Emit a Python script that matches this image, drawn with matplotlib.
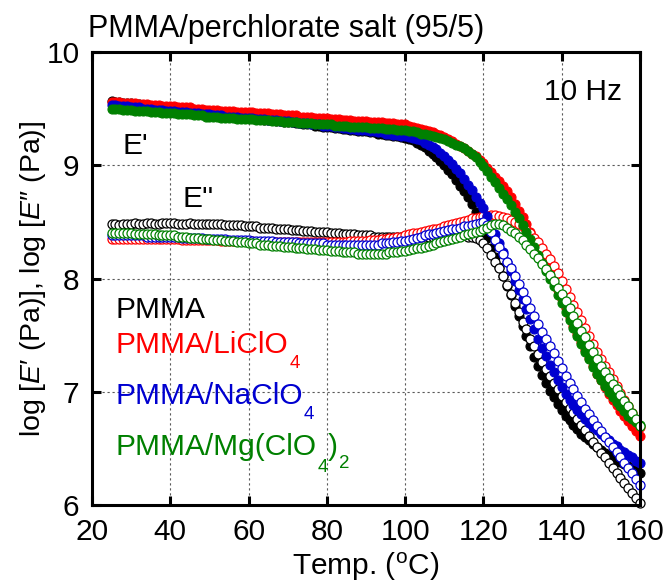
import numpy as np
import matplotlib
matplotlib.use("Agg")
import matplotlib.pyplot as plt

plt.rcParams['font.family'] = ['Liberation Sans', 'DejaVu Sans']
plt.rcParams['mathtext.fontset'] = 'custom'
plt.rcParams['mathtext.rm'] = 'Liberation Sans'
plt.rcParams['mathtext.it'] = 'Liberation Sans:italic'

# measurement temperatures (deg C)
temp = np.arange(25, 161)

# log E' (storage modulus), Pa
pmma_e1 = [
    9.57, 9.56, 9.56, 9.55, 9.55, 9.55, 9.54, 9.54, 9.53, 9.53,
    9.52, 9.52, 9.51, 9.51, 9.50, 9.50, 9.50, 9.49, 9.49, 9.48,
    9.48, 9.48, 9.47, 9.47, 9.46, 9.46, 9.46, 9.45, 9.45, 9.44,
    9.44, 9.44, 9.43, 9.43, 9.42, 9.42, 9.42, 9.41, 9.41, 9.40,
    9.40, 9.40, 9.39, 9.39, 9.38, 9.38, 9.38, 9.37, 9.37, 9.36,
    9.36, 9.36, 9.35, 9.35, 9.34, 9.34, 9.34, 9.33, 9.33, 9.32,
    9.32, 9.31, 9.31, 9.30, 9.30, 9.30, 9.29, 9.29, 9.28, 9.28,
    9.27, 9.27, 9.26, 9.26, 9.25, 9.24, 9.23, 9.22, 9.20, 9.18,
    9.16, 9.13, 9.10, 9.07, 9.04, 9.00, 8.96, 8.92, 8.87, 8.82,
    8.77, 8.72, 8.66, 8.59, 8.52, 8.44, 8.36, 8.27, 8.19, 8.10,
    8.02, 7.93, 7.85, 7.76, 7.67, 7.58, 7.49, 7.40, 7.31, 7.23,
    7.15, 7.08, 7.01, 6.95, 6.89, 6.84, 6.79, 6.75, 6.71, 6.67,
    6.63, 6.60, 6.57, 6.54, 6.51, 6.49, 6.46, 6.44, 6.42, 6.40,
    6.38, 6.36, 6.34, 6.32, 6.30, 6.28,
]
li_e1 = [
    9.56, 9.56, 9.56, 9.55, 9.55, 9.55, 9.55, 9.54, 9.54, 9.54,
    9.53, 9.53, 9.53, 9.52, 9.52, 9.52, 9.52, 9.51, 9.51, 9.51,
    9.51, 9.50, 9.50, 9.50, 9.49, 9.49, 9.49, 9.49, 9.48, 9.48,
    9.48, 9.48, 9.47, 9.47, 9.47, 9.47, 9.47, 9.46, 9.46, 9.46,
    9.46, 9.45, 9.45, 9.45, 9.44, 9.44, 9.44, 9.44, 9.43, 9.43,
    9.43, 9.43, 9.42, 9.42, 9.42, 9.42, 9.41, 9.41, 9.41, 9.40,
    9.40, 9.40, 9.39, 9.39, 9.39, 9.39, 9.38, 9.38, 9.38, 9.38,
    9.37, 9.37, 9.37, 9.36, 9.36, 9.36, 9.35, 9.34, 9.33, 9.32,
    9.31, 9.30, 9.29, 9.28, 9.27, 9.25, 9.23, 9.21, 9.19, 9.17,
    9.15, 9.13, 9.10, 9.08, 9.05, 9.02, 8.98, 8.94, 8.90, 8.86,
    8.82, 8.77, 8.72, 8.66, 8.60, 8.54, 8.48, 8.41, 8.34, 8.27,
    8.20, 8.13, 8.06, 7.98, 7.90, 7.82, 7.74, 7.66, 7.58, 7.51,
    7.44, 7.37, 7.30, 7.23, 7.16, 7.10, 7.04, 6.98, 6.93, 6.88,
    6.83, 6.79, 6.74, 6.70, 6.65, 6.61,
]
na_e1 = [
    9.53, 9.53, 9.52, 9.52, 9.52, 9.51, 9.51, 9.51, 9.50, 9.50,
    9.50, 9.49, 9.49, 9.49, 9.48, 9.48, 9.48, 9.47, 9.47, 9.47,
    9.46, 9.46, 9.46, 9.45, 9.45, 9.45, 9.44, 9.44, 9.44, 9.43,
    9.43, 9.43, 9.43, 9.42, 9.42, 9.42, 9.42, 9.41, 9.41, 9.41,
    9.40, 9.40, 9.40, 9.39, 9.39, 9.39, 9.38, 9.38, 9.37, 9.37,
    9.37, 9.36, 9.36, 9.36, 9.35, 9.35, 9.35, 9.34, 9.34, 9.33,
    9.33, 9.32, 9.32, 9.31, 9.31, 9.31, 9.30, 9.30, 9.29, 9.29,
    9.28, 9.28, 9.27, 9.27, 9.26, 9.26, 9.25, 9.24, 9.23, 9.22,
    9.20, 9.18, 9.16, 9.14, 9.11, 9.08, 9.05, 9.01, 8.97, 8.93,
    8.88, 8.83, 8.78, 8.72, 8.67, 8.62, 8.55, 8.47, 8.39, 8.31,
    8.23, 8.15, 8.07, 7.98, 7.90, 7.82, 7.73, 7.64, 7.55, 7.47,
    7.39, 7.32, 7.24, 7.17, 7.10, 7.04, 6.98, 6.93, 6.88, 6.84,
    6.80, 6.76, 6.72, 6.69, 6.66, 6.63, 6.60, 6.57, 6.54, 6.52,
    6.49, 6.47, 6.44, 6.42, 6.39, 6.37,
]
mg_e1 = [
    9.50, 9.50, 9.50, 9.49, 9.49, 9.49, 9.48, 9.48, 9.48, 9.48,
    9.47, 9.47, 9.47, 9.46, 9.46, 9.46, 9.46, 9.45, 9.45, 9.45,
    9.45, 9.44, 9.44, 9.44, 9.43, 9.43, 9.43, 9.43, 9.42, 9.42,
    9.42, 9.42, 9.41, 9.41, 9.41, 9.41, 9.41, 9.40, 9.40, 9.40,
    9.40, 9.39, 9.39, 9.39, 9.38, 9.38, 9.38, 9.38, 9.37, 9.37,
    9.37, 9.37, 9.36, 9.36, 9.36, 9.36, 9.36, 9.35, 9.35, 9.35,
    9.35, 9.34, 9.34, 9.34, 9.34, 9.34, 9.33, 9.33, 9.33, 9.33,
    9.32, 9.32, 9.32, 9.31, 9.31, 9.31, 9.30, 9.30, 9.29, 9.28,
    9.28, 9.27, 9.26, 9.25, 9.24, 9.23, 9.21, 9.20, 9.18, 9.17,
    9.15, 9.13, 9.10, 9.07, 9.03, 8.99, 8.95, 8.90, 8.85, 8.80,
    8.75, 8.70, 8.65, 8.59, 8.53, 8.47, 8.41, 8.35, 8.28, 8.21,
    8.14, 8.07, 8.00, 7.93, 7.85, 7.78, 7.70, 7.63, 7.56, 7.49,
    7.42, 7.35, 7.29, 7.22, 7.16, 7.10, 7.05, 7.00, 6.95, 6.91,
    6.87, 6.83, 6.79, 6.76, 6.73, 6.71,
]

# log E'' (loss modulus), Pa
pmma_e2 = [
    8.48, 8.48, 8.47, 8.48, 8.48, 8.48, 8.49, 8.48, 8.48, 8.49,
    8.49, 8.48, 8.48, 8.49, 8.49, 8.49, 8.49, 8.48, 8.48, 8.48,
    8.49, 8.48, 8.48, 8.48, 8.48, 8.48, 8.48, 8.48, 8.48, 8.47,
    8.47, 8.47, 8.47, 8.47, 8.46, 8.46, 8.46, 8.46, 8.45, 8.45,
    8.45, 8.45, 8.44, 8.44, 8.44, 8.44, 8.43, 8.43, 8.43, 8.42,
    8.42, 8.42, 8.41, 8.41, 8.41, 8.41, 8.40, 8.40, 8.40, 8.39,
    8.39, 8.39, 8.39, 8.38, 8.38, 8.38, 8.38, 8.37, 8.37, 8.37,
    8.37, 8.37, 8.37, 8.37, 8.37, 8.37, 8.37, 8.37, 8.37, 8.37,
    8.37, 8.37, 8.37, 8.37, 8.37, 8.37, 8.37, 8.38, 8.38, 8.38,
    8.38, 8.37, 8.37, 8.36, 8.34, 8.31, 8.27, 8.21, 8.15, 8.09,
    8.02, 7.94, 7.86, 7.78, 7.70, 7.62, 7.55, 7.47, 7.40, 7.33,
    7.26, 7.20, 7.14, 7.08, 7.02, 6.96, 6.91, 6.86, 6.81, 6.76,
    6.71, 6.66, 6.61, 6.56, 6.51, 6.46, 6.42, 6.37, 6.33, 6.28,
    6.24, 6.19, 6.15, 6.11, 6.06, 6.02,
]
li_e2 = [
    8.35, 8.35, 8.35, 8.35, 8.35, 8.35, 8.35, 8.35, 8.35, 8.35,
    8.35, 8.35, 8.35, 8.35, 8.35, 8.35, 8.35, 8.35, 8.34, 8.34,
    8.34, 8.34, 8.34, 8.34, 8.34, 8.34, 8.34, 8.34, 8.33, 8.33,
    8.33, 8.33, 8.33, 8.33, 8.33, 8.33, 8.33, 8.32, 8.32, 8.32,
    8.32, 8.32, 8.32, 8.32, 8.32, 8.32, 8.32, 8.32, 8.32, 8.32,
    8.32, 8.32, 8.32, 8.32, 8.32, 8.32, 8.32, 8.32, 8.32, 8.32,
    8.32, 8.33, 8.33, 8.33, 8.33, 8.33, 8.34, 8.34, 8.34, 8.35,
    8.35, 8.36, 8.36, 8.37, 8.37, 8.38, 8.39, 8.40, 8.40, 8.41,
    8.42, 8.43, 8.44, 8.44, 8.45, 8.46, 8.47, 8.48, 8.49, 8.50,
    8.51, 8.52, 8.53, 8.53, 8.54, 8.55, 8.55, 8.56, 8.56, 8.55,
    8.54, 8.53, 8.52, 8.50, 8.48, 8.46, 8.43, 8.40, 8.36, 8.32,
    8.27, 8.22, 8.17, 8.11, 8.05, 7.98, 7.91, 7.84, 7.77, 7.70,
    7.63, 7.56, 7.49, 7.42, 7.35, 7.29, 7.23, 7.17, 7.11, 7.05,
    6.99, 6.93, 6.87, 6.81, 6.75, 6.69,
]
na_e2 = [
    8.38, 8.38, 8.38, 8.38, 8.38, 8.38, 8.38, 8.38, 8.38, 8.37,
    8.37, 8.37, 8.37, 8.37, 8.37, 8.37, 8.37, 8.37, 8.36, 8.36,
    8.36, 8.36, 8.36, 8.36, 8.35, 8.35, 8.35, 8.35, 8.35, 8.35,
    8.34, 8.34, 8.34, 8.34, 8.34, 8.34, 8.33, 8.33, 8.33, 8.33,
    8.33, 8.33, 8.32, 8.32, 8.32, 8.32, 8.32, 8.32, 8.31, 8.31,
    8.31, 8.31, 8.31, 8.31, 8.31, 8.30, 8.30, 8.30, 8.30, 8.30,
    8.30, 8.30, 8.30, 8.30, 8.30, 8.30, 8.30, 8.30, 8.30, 8.31,
    8.31, 8.31, 8.32, 8.32, 8.33, 8.33, 8.34, 8.35, 8.36, 8.37,
    8.38, 8.39, 8.39, 8.40, 8.41, 8.42, 8.43, 8.44, 8.44, 8.45,
    8.46, 8.46, 8.47, 8.48, 8.49, 8.50, 8.47, 8.41, 8.34, 8.28,
    8.22, 8.15, 8.09, 8.02, 7.95, 7.88, 7.81, 7.74, 7.67, 7.60,
    7.53, 7.47, 7.40, 7.34, 7.27, 7.21, 7.14, 7.08, 7.02, 6.96,
    6.91, 6.85, 6.80, 6.75, 6.70, 6.65, 6.60, 6.56, 6.51, 6.47,
    6.42, 6.37, 6.33, 6.28, 6.23, 6.18,
]
mg_e2 = [
    8.40, 8.40, 8.40, 8.40, 8.40, 8.40, 8.39, 8.39, 8.39, 8.39,
    8.39, 8.39, 8.38, 8.38, 8.38, 8.38, 8.38, 8.37, 8.37, 8.37,
    8.36, 8.36, 8.36, 8.35, 8.35, 8.35, 8.34, 8.34, 8.34, 8.33,
    8.33, 8.33, 8.32, 8.32, 8.32, 8.31, 8.31, 8.31, 8.30, 8.30,
    8.30, 8.29, 8.29, 8.29, 8.28, 8.28, 8.28, 8.27, 8.27, 8.27,
    8.26, 8.26, 8.26, 8.25, 8.25, 8.25, 8.24, 8.24, 8.24, 8.23,
    8.23, 8.23, 8.23, 8.22, 8.22, 8.22, 8.22, 8.22, 8.22, 8.22,
    8.22, 8.23, 8.23, 8.23, 8.24, 8.24, 8.25, 8.26, 8.27, 8.27,
    8.28, 8.29, 8.30, 8.31, 8.32, 8.33, 8.34, 8.35, 8.36, 8.37,
    8.38, 8.39, 8.40, 8.41, 8.42, 8.44, 8.45, 8.47, 8.48, 8.48,
    8.47, 8.45, 8.42, 8.40, 8.37, 8.34, 8.30, 8.26, 8.22, 8.18,
    8.13, 8.08, 8.03, 7.98, 7.92, 7.86, 7.80, 7.74, 7.67, 7.61,
    7.54, 7.48, 7.41, 7.35, 7.29, 7.23, 7.17, 7.12, 7.07, 7.02,
    6.97, 6.92, 6.87, 6.81, 6.76, 6.70,
]

samples = ['PMMA', 'PMMA/LiClO', 'PMMA/NaClO', 'PMMA/Mg(ClO']
colors = ['#000000', '#ff0000', '#0000d0', '#008000']
storage = [pmma_e1, li_e1, na_e1, mg_e1]
loss = [pmma_e2, li_e2, na_e2, mg_e2]

x_ticks = [20, 40, 60, 80, 100, 120, 140, 160]
y_ticks = [6, 7, 8, 9, 10]

FS = 21.5

fig = plt.figure(figsize=(6.67, 5.86), dpi=100)
ax = fig.add_axes([92 / 667, 1 - 505 / 586, 548 / 667, 453 / 586])

for c, e1, e2 in zip(colors, storage, loss):
    ax.plot(temp, e1, linestyle='none', marker='o', ms=6.5, mfc=c, mec=c,
            mew=0.8, clip_on=False, zorder=3)
    ax.plot(temp, e2, linestyle='none', marker='o', ms=6.5, mfc='white', mec=c,
            mew=0.9, clip_on=False, zorder=3)

ax.set_xlim(20, 160)
ax.set_ylim(6, 10)
ax.set_xticks(x_ticks)
ax.set_yticks(y_ticks)
ax.grid(True, linestyle=(0, (2, 2.5)), linewidth=0.8, color='0.35')
ax.set_axisbelow(True)
for s in ax.spines.values():
    s.set_linewidth(2.2)
    s.set_zorder(4)
ax.tick_params(direction='in', length=6.5, width=2.2, top=True, right=True,
               labelsize=FS, pad=9)

ax.set_xlabel(r'Temp. ($^{\mathrm{o}}$C)', fontsize=FS, labelpad=4)
ax.set_ylabel(r'log [$\mathit{E}$′ (Pa)], log [$\mathit{E}$″ (Pa)]',
              fontsize=20.5, labelpad=-1)

fig.text(88 / 667, 1 - 37 / 586, 'PMMA/perchlorate salt (95/5)',
         fontsize=22, va='baseline')

ax.text(27.7, 9.10, "E'", fontsize=FS, va='baseline')
ax.text(43.0, 8.63, "E''", fontsize=FS, va='baseline')
ax.text(155.4, 9.58, '10 Hz', fontsize=FS, va='baseline', ha='right')

# sample labels with subscripted counts
label_y = [7.65, 7.34, 6.89, 6.44]
SUB = 13.5
t0 = ax.text(26.1, label_y[0], samples[0], color=colors[0], fontsize=FS,
             va='baseline')
for name, c, y in zip(samples[1:3], colors[1:3], label_y[1:3]):
    t = ax.text(26.1, y, name, color=c, fontsize=FS, va='baseline')
    ax.annotate('4', xy=(1, 0), xycoords=t, xytext=(0.5, -6.0),
                textcoords='offset points', fontsize=SUB, color=c,
                va='baseline', ha='left')
t = ax.text(26.1, label_y[3], samples[3], color=colors[3], fontsize=FS,
            va='baseline')
s4 = ax.annotate('4', xy=(1, 0), xycoords=t, xytext=(0.5, -8.0),
                 textcoords='offset points', fontsize=SUB, color=colors[3],
                 va='baseline', ha='left')
par = ax.annotate(')', xy=(1, 0), xycoords=(s4, t), xytext=(0, 0),
                  textcoords='offset points', fontsize=FS, color=colors[3],
                  va='bottom', ha='left')
ax.annotate('2', xy=(1, 0), xycoords=par, xytext=(0.5, -5.0),
            textcoords='offset points', fontsize=SUB, color=colors[3],
            va='baseline', ha='left')

fig.savefig('out.png', dpi=100)
